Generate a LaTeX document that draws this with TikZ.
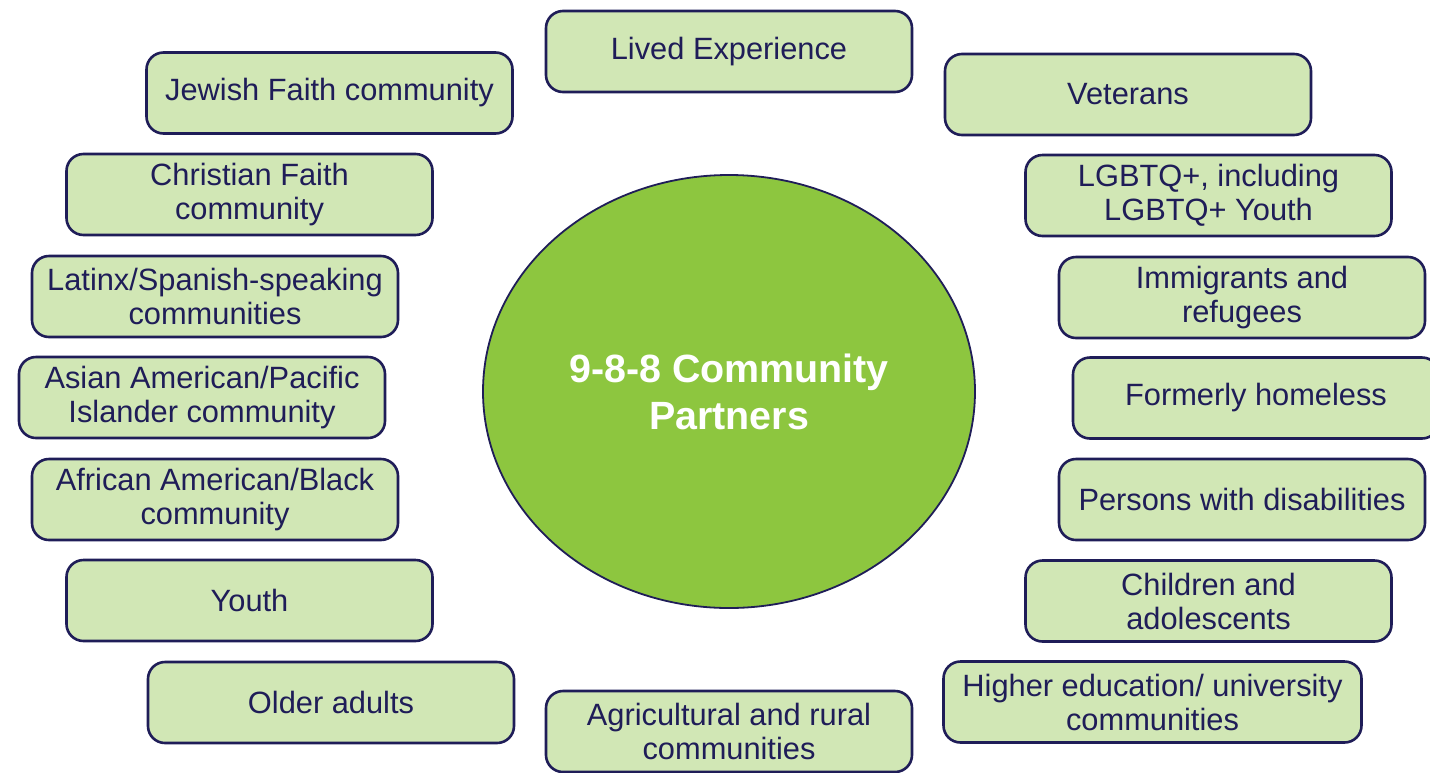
\documentclass[tikz,border=0pt]{standalone}
\usepackage{fontspec}
\setmainfont{Liberation Sans}
\usepackage{xcolor}
\usetikzlibrary{shapes.geometric}
\usetikzlibrary{positioning}

\definecolor{navy}{RGB}{31,29,88}
\definecolor{mint}{RGB}{209,231,181}
\definecolor{leaf}{RGB}{141,198,63}

\begin{document}
\begin{tikzpicture}[
				x=1pt, y=-1pt,
				partner/.style={draw=navy, fill=mint, line width=2.6pt, rounded corners=17pt,
					minimum width=366pt, minimum height=81pt, inner sep=0pt, align=center,
					text=navy, font=\fontsize{30.8}{34}\selectfont},
				hub/.style={ellipse, draw=navy, fill=leaf, line width=1.8pt, inner sep=0pt,
					minimum width=492pt, minimum height=433pt, align=center,
					text=white, font=\fontsize{39.4}{47}\selectfont\bfseries},
			]
				\clip (0,0) rectangle (1430,772);
				\fill[white] (0,0) rectangle (1430,772);

				\node[hub] (centre) at (729,391.5) {9-8-8 Community\\Partners};

				% top and bottom
				\node[partner] (lived) at (729,51.5) {Lived Experience};
				\node[partner] (rural) at (729,731.5) {Agricultural and rural\\communities};

				% left side
				\node[partner] (jewish) at (329.5,93) {Jewish Faith community};
				\node[partner] (christian) at (249.5,194.5) {Christian Faith\\community};
				\node[partner] (latinx) at (215,296.5) {Latinx/Spanish-speaking\\communities};
				\node[partner] (asian) at (202,397.5) {Asian American/Pacific\\Islander community};
				\node[partner] (african) at (215,499.5) {African American/Black\\community};
				\node[partner] (youth) at (249.5,600.5) {Youth};
				\node[partner] (older) at (331,702.5) {Older adults};

				% right side
				\node[partner] (veterans) at (1128,94.5) {Veterans};
				\node[partner] (lgbtq) at (1208.5,195.5) {LGBTQ+, including\\LGBTQ+ Youth};
				\node[partner] (immigrants) at (1242,297.5) {Immigrants and\\refugees};
				\node[partner] (homeless) at (1256,398) {Formerly homeless};
				\node[partner] (disabilities) at (1242,499.5) {Persons with disabilities};
				\node[partner] (children) at (1208.5,601) {Children and\\adolescents};
				\node[partner, minimum width=418pt] (higher) at (1152.5,702) {Higher education/ university\\communities};
			\end{tikzpicture}
\end{document}
